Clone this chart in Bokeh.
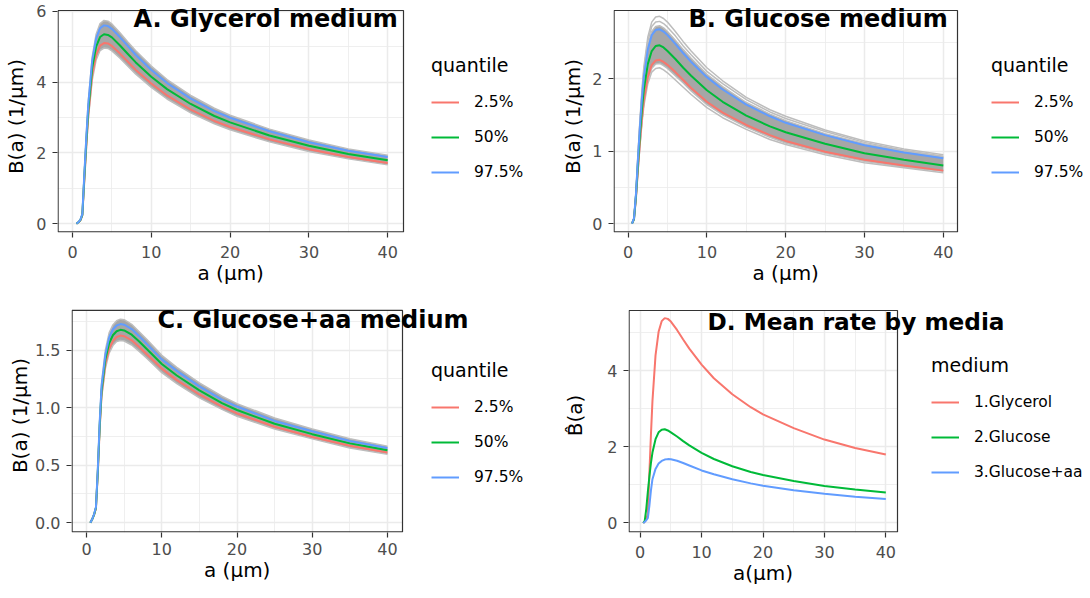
from bokeh.plotting import figure
from bokeh.models import (Range1d, FixedTicker, Legend, LegendItem, Label, Title,
                          NumeralTickFormatter, BoxAnnotation, Grid)
from bokeh.layouts import row, column
from bokeh.embed import file_html
from bokeh.resources import INLINE

# ---------------- data ----------------
a = [0.5, 0.75, 1.0, 1.25, 1.5, 1.75, 2.0, 2.5, 3.0, 3.5, 4.0, 4.5, 5.0,
     6.0, 7.0, 8.0, 10, 12, 15, 18, 20, 25, 30, 35, 40]

# A. Glycerol medium
gly_q025 = [0.0, 0.04, 0.09, 0.23, 1.2, 2.18, 3.05, 4.2, 4.77, 5.03, 5.1, 5.09, 5.02,
            4.81, 4.58, 4.35, 3.96, 3.62, 3.22, 2.9, 2.73, 2.38, 2.1, 1.88, 1.71]
gly_q50 = [0.0, 0.04, 0.1, 0.25, 1.3, 2.3, 3.2, 4.4, 5.0, 5.27, 5.35, 5.33, 5.26,
           5.04, 4.8, 4.56, 4.15, 3.8, 3.38, 3.04, 2.86, 2.49, 2.2, 1.97, 1.79]
gly_q975 = [0.0, 0.04, 0.11, 0.27, 1.38, 2.42, 3.35, 4.6, 5.23, 5.52, 5.6, 5.58, 5.5,
            5.27, 5.02, 4.77, 4.34, 3.97, 3.53, 3.18, 2.99, 2.61, 2.3, 2.06, 1.88]
gly_sample_hi = [0.0, 0.05, 0.12, 0.29, 1.45, 2.5, 3.45, 4.7, 5.35, 5.65, 5.74, 5.72, 5.64,
                 5.4, 5.14, 4.89, 4.45, 4.07, 3.62, 3.26, 3.06, 2.67, 2.36, 2.11, 1.93]
gly_sample_lo = [0.0, 0.03, 0.08, 0.21, 1.12, 2.08, 2.93, 4.05, 4.62, 4.89, 4.96, 4.95, 4.88,
                 4.68, 4.45, 4.23, 3.85, 3.52, 3.13, 2.82, 2.65, 2.31, 2.04, 1.83, 1.66]

# B. Glucose medium
glu_q025 = [0.0, 0.06, 0.35, 0.75, 1.12, 1.44, 1.7, 2.02, 2.19, 2.25, 2.26, 2.23, 2.19,
            2.09, 1.98, 1.87, 1.68, 1.53, 1.36, 1.22, 1.14, 0.99, 0.88, 0.8, 0.73]
glu_q50 = [0.0, 0.06, 0.38, 0.82, 1.22, 1.57, 1.85, 2.2, 2.38, 2.45, 2.46, 2.43, 2.38,
           2.27, 2.15, 2.04, 1.84, 1.68, 1.49, 1.34, 1.26, 1.1, 0.97, 0.88, 0.8]
glu_q975 = [0.0, 0.07, 0.41, 0.89, 1.33, 1.71, 2.02, 2.4, 2.6, 2.67, 2.68, 2.65, 2.6,
            2.48, 2.35, 2.23, 2.02, 1.85, 1.64, 1.48, 1.39, 1.22, 1.08, 0.98, 0.9]
glu_band_hi = [0.0, 0.07, 0.42, 0.91, 1.36, 1.75, 2.06, 2.45, 2.65, 2.72, 2.73, 2.7, 2.65,
               2.53, 2.4, 2.28, 2.06, 1.89, 1.67, 1.51, 1.42, 1.24, 1.1, 1.0, 0.92]
glu_band_lo = [0.0, 0.05, 0.34, 0.73, 1.09, 1.41, 1.66, 1.98, 2.14, 2.2, 2.21, 2.18, 2.14,
               2.04, 1.94, 1.83, 1.64, 1.5, 1.33, 1.19, 1.11, 0.97, 0.86, 0.78, 0.72]
glu_sample_top = [0.0, 0.08, 0.44, 0.95, 1.42, 1.83, 2.16, 2.57, 2.78, 2.85, 2.86, 2.83, 2.78,
                  2.65, 2.51, 2.38, 2.15, 1.97, 1.74, 1.57, 1.48, 1.29, 1.14, 1.03, 0.95]
glu_sample_top2 = [0.0, 0.075, 0.43, 0.93, 1.39, 1.79, 2.11, 2.51, 2.72, 2.78, 2.79, 2.76, 2.71,
                   2.59, 2.45, 2.33, 2.1, 1.93, 1.71, 1.54, 1.45, 1.27, 1.12, 1.01, 0.93]
glu_sample_bottom = [0.0, 0.05, 0.33, 0.71, 1.06, 1.37, 1.62, 1.93, 2.09, 2.14, 2.15, 2.12, 2.08,
                     1.98, 1.88, 1.78, 1.6, 1.46, 1.3, 1.16, 1.09, 0.95, 0.84, 0.77, 0.7]

# C. Glucose+aa medium
gaa_q025 = [0.0, 0.03, 0.068, 0.125, 0.435, 0.82, 1.115, 1.38, 1.51, 1.58, 1.615, 1.627, 1.622,
            1.586, 1.528, 1.465, 1.34, 1.24, 1.115, 1.01, 0.95, 0.835, 0.745, 0.67, 0.61]
gaa_q50 = [0.0, 0.03, 0.07, 0.13, 0.45, 0.85, 1.15, 1.42, 1.56, 1.63, 1.665, 1.677, 1.672,
           1.635, 1.575, 1.51, 1.38, 1.28, 1.15, 1.04, 0.98, 0.86, 0.77, 0.69, 0.63]
gaa_q975 = [0.0, 0.03, 0.075, 0.135, 0.47, 0.88, 1.19, 1.46, 1.61, 1.68, 1.715, 1.727, 1.722,
            1.684, 1.622, 1.555, 1.42, 1.32, 1.185, 1.07, 1.01, 0.885, 0.795, 0.71, 0.65]
gaa_sample_hi = [0.0, 0.032, 0.078, 0.14, 0.48, 0.9, 1.22, 1.5, 1.65, 1.72, 1.757, 1.77, 1.765,
                 1.725, 1.66, 1.595, 1.455, 1.35, 1.215, 1.1, 1.035, 0.91, 0.815, 0.73, 0.665]
gaa_sample_lo = [0.0, 0.028, 0.066, 0.12, 0.425, 0.8, 1.085, 1.34, 1.475, 1.54, 1.575, 1.585, 1.58,
                 1.545, 1.49, 1.43, 1.305, 1.21, 1.085, 0.985, 0.925, 0.815, 0.73, 0.65, 0.595]

# D. Mean rate by media
mean_glycerol = [0.0, 0.04, 0.1, 0.25, 1.3, 2.3, 3.2, 4.4, 5.02, 5.3, 5.38, 5.36, 5.29,
                 5.07, 4.82, 4.58, 4.16, 3.8, 3.38, 3.04, 2.85, 2.49, 2.19, 1.97, 1.8]
mean_glucose = [0.0, 0.06, 0.38, 0.82, 1.22, 1.57, 1.85, 2.2, 2.38, 2.45, 2.46, 2.43, 2.38,
                2.27, 2.15, 2.04, 1.84, 1.68, 1.49, 1.34, 1.26, 1.1, 0.97, 0.88, 0.8]
mean_glucose_aa = [0.0, 0.03, 0.07, 0.13, 0.45, 0.85, 1.15, 1.42, 1.56, 1.63, 1.665, 1.677, 1.672,
                   1.635, 1.575, 1.51, 1.38, 1.28, 1.15, 1.04, 0.98, 0.86, 0.77, 0.69, 0.63]

quantile_labels = ["2.5%", "50%", "97.5%"]
medium_labels = ["1.Glycerol", "2.Glucose", "3.Glucose+aa"]
x_ticks = [0, 10, 20, 30, 40]
x_minor = [5, 15, 25, 35]

# ---------------- styling ----------------
RED, GREEN, BLUE = "#F8766D", "#00BA38", "#619CFF"
FONT = "DejaVu Sans"
BAND = "#A6A6A6"
SAMPLE = "#BDBDBD"
GRID = "#EBEBEB"
HAS_CROSS = "cross_bounds" in Grid.properties()


class Panel:
    """A ggplot-like panel: the frame reaches to the right/top edge of the figure
    so that the legend and title (which overlap the box) are not clipped."""

    def __init__(self, origin, size, frame_left, frame_bottom, box_right, box_top,
                 xbox, ybox, yticks, yminor, xlabel, xlabel_width, ylabel,
                 ylab_standoff, xtick_standoff=8, xlab_standoff=0, yfmt=None):
        ox, oy = origin
        w, h = size
        bl = frame_left - ox
        bb = oy + h - frame_bottom
        self.fl, self.fb = frame_left, frame_bottom
        frame_w = w - bl
        frame_h = h - bb
        sx = (box_right - frame_left) / (xbox[1] - xbox[0])
        sy = (frame_bottom - box_top) / (ybox[1] - ybox[0])
        x_end = xbox[0] + frame_w / sx
        y_end = ybox[0] + frame_h / sy
        p = figure(width=w, height=h, x_range=Range1d(xbox[0], x_end),
                   y_range=Range1d(ybox[0], y_end),
                   tools="", toolbar_location=None, output_backend="svg",
                   min_border_left=bl, min_border_right=0,
                   min_border_top=0, min_border_bottom=bb)
        p.outline_line_color = None
        p.background_fill_color = "white"
        p.border_fill_color = "white"
        p.xaxis.ticker = FixedTicker(ticks=x_ticks, minor_ticks=x_minor)
        p.yaxis.ticker = FixedTicker(ticks=yticks, minor_ticks=yminor)
        p.xaxis.bounds = tuple(xbox)
        p.yaxis.bounds = tuple(ybox)
        if yfmt:
            p.yaxis.formatter = NumeralTickFormatter(format=yfmt)
        p.yaxis.axis_label = ylabel
        for ax in list(p.xaxis) + list(p.yaxis):
            ax.axis_line_color = None
            ax.major_tick_line_color = "#333333"
            ax.major_tick_line_width = 1.2
            ax.major_tick_out = 5
            ax.major_tick_in = 0
            ax.minor_tick_line_color = None
            ax.major_label_text_font = FONT
            ax.major_label_text_font_size = "16px"
            ax.major_label_text_color = "#4D4D4D"
            ax.axis_label_text_font = FONT
            ax.axis_label_text_font_size = "20px"
            ax.axis_label_text_font_style = "normal"
            ax.axis_label_text_color = "black"
        p.xaxis.major_label_standoff = xtick_standoff
        p.yaxis.major_label_standoff = 6
        p.yaxis.axis_label_standoff = ylab_standoff

        # x-axis title, centred under the panel box (not under the wider frame)
        box_center = (frame_left + box_right) / 2
        p.add_layout(Title(text=xlabel, align="left",
                           offset=box_center - xlabel_width / 2 - frame_left,
                           vertical_align="top", standoff=xlab_standoff,
                           text_font=FONT, text_font_size="20px",
                           text_font_style="normal", text_color="black"), "below")

        if HAS_CROSS:
            for g in p.xgrid:
                g.cross_bounds = tuple(ybox)
            for g in p.ygrid:
                g.cross_bounds = tuple(xbox)
            for g in list(p.xgrid) + list(p.ygrid):
                g.grid_line_color = GRID
                g.grid_line_width = 1.5
                g.minor_grid_line_color = GRID
                g.minor_grid_line_width = 0.8
        else:
            for g in list(p.xgrid) + list(p.ygrid):
                g.grid_line_color = None
            for ticks, lw in ((x_ticks, 1.5), (x_minor, 0.8)):
                p.segment(x0=ticks, y0=[ybox[0]] * len(ticks), x1=ticks,
                          y1=[ybox[1]] * len(ticks), line_color=GRID, line_width=lw,
                          level="underlay")
            for ticks, lw in ((yticks, 1.5), (yminor, 0.8)):
                p.segment(x0=[xbox[0]] * len(ticks), y0=ticks, x1=[xbox[1]] * len(ticks),
                          y1=ticks, line_color=GRID, line_width=lw, level="underlay")

        # panel border (theme_bw)
        p.add_layout(BoxAnnotation(left=xbox[0] + 0.6 / sx, right=xbox[1],
                                   bottom=ybox[0] + 0.6 / sy, top=ybox[1],
                                   fill_color=None, line_color="#333333",
                                   line_alpha=1.0, line_width=1.2))
        self.p = p

    def title(self, text, left, baseline, size="23.5px"):
        self.p.add_layout(Label(x=left - self.fl, y=self.fb - baseline,
                                x_units="screen", y_units="screen", text=text,
                                text_font=FONT, text_font_style="bold",
                                text_font_size=size, text_color="black",
                                text_baseline="alphabetic"))

    def legend(self, title, labels, renderers, left, top, est_height=144):
        legend = Legend(items=[LegendItem(label=l, renderers=[r])
                               for l, r in zip(labels, renderers)],
                        location=(left - self.fl, self.fb - (top + est_height)),
                        title=title)
        legend.title_text_font = FONT
        legend.title_text_font_size = "19px"
        legend.title_text_font_style = "normal"
        legend.title_text_color = "black"
        legend.title_standoff = 16
        legend.label_text_font = FONT
        legend.label_text_font_size = "15.5px"
        legend.label_text_color = "black"
        legend.glyph_width = 28
        legend.glyph_height = 20
        legend.label_height = 20
        legend.label_standoff = 15
        legend.spacing = 15
        legend.padding = 8
        legend.margin = 0
        legend.border_line_color = None
        legend.background_fill_alpha = 0
        self.p.add_layout(legend)


def quantile_panel(panel, band_lo, band_hi, samples, q025, q50, q975):
    p = panel.p
    p.varea(x=a, y1=band_lo, y2=band_hi, fill_color=BAND)
    for s in [band_lo, band_hi] + samples:
        p.line(a, s, line_color=SAMPLE, line_width=1.5)
    r1 = p.line(a, q025, line_color=RED, line_width=2)
    r2 = p.line(a, q50, line_color=GREEN, line_width=2)
    r3 = p.line(a, q975, line_color=BLUE, line_width=2)
    return [r1, r2, r3]


XLAB = "a (\u03bcm)"
YLAB = "B(a) (1/\u03bcm)"

# A
A = Panel((0, 0), (545, 298), 57, 232, 403, 10, (-1.9, 42.0), (-0.25, 6.02),
          [0, 2, 4, 6], [1, 3, 5], XLAB, 66, YLAB, 5)
rs = quantile_panel(A, gly_sample_lo, gly_sample_hi, [], gly_q025, gly_q50, gly_q975)
A.legend("quantile", quantile_labels, rs, 431, 38)
A.title("A. Glycerol medium", 133, 18, "24px")

# B
B = Panel((545, 0), (545, 298), 613, 232, 957, 10, (-1.85, 41.8), (-0.124, 2.94),
          [0, 1, 2], [0.5, 1.5, 2.5], XLAB, 66, YLAB, 4)
rs = quantile_panel(B, glu_band_lo, glu_band_hi,
                    [glu_sample_top, glu_sample_top2, glu_sample_bottom],
                    glu_q025, glu_q50, glu_q975)
B.legend("quantile", quantile_labels, rs, 991, 38)
B.title("B. Glucose medium", 688, 18, "24px")

# C
C = Panel((0, 298), (545, 300), 71, 534, 402, 310, (-2.0, 42.0), (-0.085, 1.846),
          [0, 0.5, 1.0, 1.5], [0.25, 0.75, 1.25, 1.75], XLAB, 66, YLAB, 0,
          xtick_standoff=5, yfmt="0.0")
rs = quantile_panel(C, gaa_sample_lo, gaa_sample_hi, [], gaa_q025, gaa_q50, gaa_q975)
C.legend("quantile", quantile_labels, rs, 431, 345)
C.title("C. Glucose+aa medium", 157, 321, "24px")

# D
D = Panel((545, 298), (545, 300), 628, 532, 897, 310, (-1.9, 41.9), (-0.25, 5.58),
          [0, 2, 4], [1, 3, 5], "a(\u03bcm)", 60, "B\u0302(a)", 17)
d1 = D.p.line(a, mean_glycerol, line_color=RED, line_width=2)
d2 = D.p.line(a, mean_glucose, line_color=GREEN, line_width=2)
d3 = D.p.line(a, mean_glucose_aa, line_color=BLUE, line_width=2)
D.legend("medium", medium_labels, [d1, d2, d3], 931, 338)
D.title("D. Mean rate by media", 707, 321, "23.2px")

layout = column(row(A.p, B.p), row(C.p, D.p))

open("out.html", "w").write(file_html(layout, INLINE))
